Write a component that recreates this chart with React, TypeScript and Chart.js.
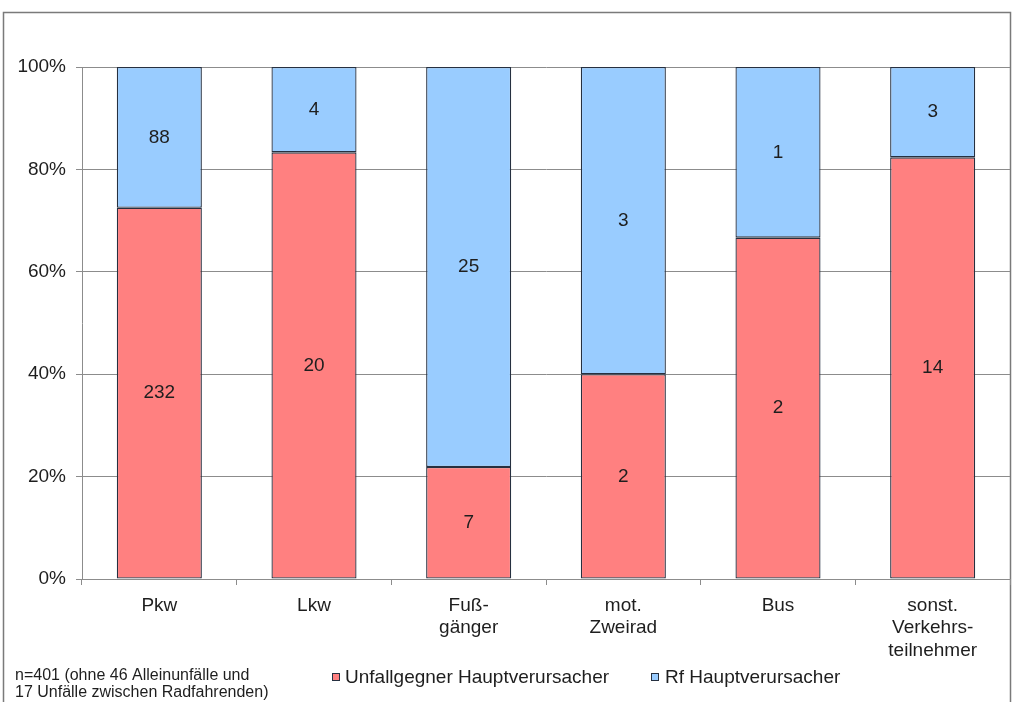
import React, { useEffect, useRef } from "react";
import { Chart, registerables } from "chart.js";

Chart.register(...registerables);

const categories: string[][] = [
  ["Pkw"],
  ["Lkw"],
  ["Fuß-", "gänger"],
  ["mot.", "Zweirad"],
  ["Bus"],
  ["sonst.", "Verkehrs-", "teilnehmer"],
];
const opponentCounts = [232, 20, 7, 2, 2, 14];
const cyclistCounts = [88, 4, 25, 3, 1, 3];
const seriesNames = ["Unfallgegner Hauptverursacher", "Rf Hauptverursacher"];
const seriesColors = ["#FF8080", "#99CCFF"];
const yTickValues = [0, 20, 40, 60, 80, 100];
const footnoteLines = ["n=401 (ohne 46 Alleinunfälle und", "17 Unfälle zwischen Radfahrenden)"];

const FONT = '"Liberation Sans", Arial, sans-serif';
const TEXT = "#1e1e1e";
const GRID = "#8c8c8c";
const EDGE = "#263040";

export default function App() {
  const ref = useRef<HTMLCanvasElement | null>(null);

  useEffect(() => {
    if (!ref.current) return;
    const totals = opponentCounts.map((a, i) => a + cyclistCounts[i]);
    const pctA = opponentCounts.map((a, i) => (a / totals[i]) * 100);
    const pctB = cyclistCounts.map((b, i) => (b / totals[i]) * 100);
    const counts = [opponentCounts, cyclistCounts];

    const decor = {
      id: "decor",
      beforeDraw(chart: any) {
        const ctx = chart.ctx;
        ctx.save();
        ctx.fillStyle = "#ffffff";
        ctx.fillRect(0, 0, chart.width, chart.height);
        ctx.strokeStyle = "#7a7a7a";
        ctx.lineWidth = 1.5;
        ctx.strokeRect(3.5, 12.5, 1007, 720);
        ctx.restore();
      },
      afterDatasetsDraw(chart: any) {
        const ctx = chart.ctx;
        ctx.save();
        ctx.font = `19px ${FONT}`;
        ctx.fillStyle = TEXT;
        ctx.textAlign = "center";
        ctx.textBaseline = "middle";
        chart.data.datasets.forEach((_ds: any, di: number) => {
          const meta = chart.getDatasetMeta(di);
          meta.data.forEach((el: any, i: number) => {
            const p = el.getProps(["x", "y", "base"], true);
            ctx.fillText(String(counts[di][i]), p.x, (p.y + p.base) / 2);
          });
        });
        ctx.restore();
      },
      afterDraw(chart: any) {
        const ctx = chart.ctx;
        ctx.save();
        // footnote
        ctx.font = `16px ${FONT}`;
        ctx.fillStyle = TEXT;
        ctx.textAlign = "left";
        ctx.textBaseline = "middle";
        footnoteLines.forEach((t, i) => ctx.fillText(t, 15, 676 + i * 17));
        // legend
        ctx.font = `19px ${FONT}`;
        const legendX = [332, 651];
        const textX = [345, 665];
        seriesNames.forEach((name, i) => {
          const x = legendX[i];
          const y = 677;
          ctx.fillStyle = seriesColors[i];
          ctx.fillRect(x, y - 4, 8, 8);
          ctx.strokeStyle = EDGE;
          ctx.lineWidth = 1;
          ctx.strokeRect(x + 0.5, y - 3.5, 7, 7);
          ctx.fillStyle = TEXT;
          ctx.fillText(name, textX[i], y + 1);
        });
        ctx.restore();
      },
    };

    const chart = new Chart(ref.current, {
      type: "bar",
      data: {
        labels: categories,
        datasets: [
          {
            label: seriesNames[0],
            data: pctA,
            backgroundColor: seriesColors[0],
            borderColor: EDGE,
            borderWidth: 1.3,
            borderSkipped: false,
          },
          {
            label: seriesNames[1],
            data: pctB,
            backgroundColor: seriesColors[1],
            borderColor: EDGE,
            borderWidth: 1.3,
            borderSkipped: false,
          },
        ],
      },
      options: {
        responsive: false,
        animation: false,
        devicePixelRatio: 1,
        layout: { padding: { top: 67, right: 2, bottom: 0, left: 0 } },
        datasets: { bar: { categoryPercentage: 1, barPercentage: 0.55 } },
        plugins: { legend: { display: false }, tooltip: { enabled: false } },
        scales: {
          x: {
            stacked: true,
            grid: { offset: true, drawOnChartArea: false, drawTicks: true, tickLength: 6, color: GRID },
            border: { display: true, color: GRID },
            ticks: {
              color: TEXT,
              font: { family: FONT, size: 19, lineHeight: 1.2 },
              padding: 9,
              maxRotation: 0,
              autoSkip: false,
            },
            afterFit(scale: any) {
              scale.height = 123;
            },
          },
          y: {
            stacked: true,
            min: 0,
            max: 100,
            grid: { color: GRID, drawTicks: true, tickLength: 6 },
            border: { display: true, color: GRID },
            ticks: {
              color: TEXT,
              font: { family: FONT, size: 19 },
              padding: 10,
              callback: (v: any) => `${v}%`,
            },
            afterBuildTicks(scale: any) {
              scale.ticks = yTickValues.map((v) => ({ value: v }));
            },
            afterFit(scale: any) {
              scale.width = 82;
            },
          },
        },
      },
      plugins: [decor],
    } as any);

    return () => chart.destroy();
  }, []);

  return (
    <div style={{ position: "absolute", left: 0, top: 0, width: 1012, height: 702 }}>
      <canvas ref={ref} width={1012} height={702} style={{ width: 1012, height: 702, display: "block" }} />
    </div>
  );
}
